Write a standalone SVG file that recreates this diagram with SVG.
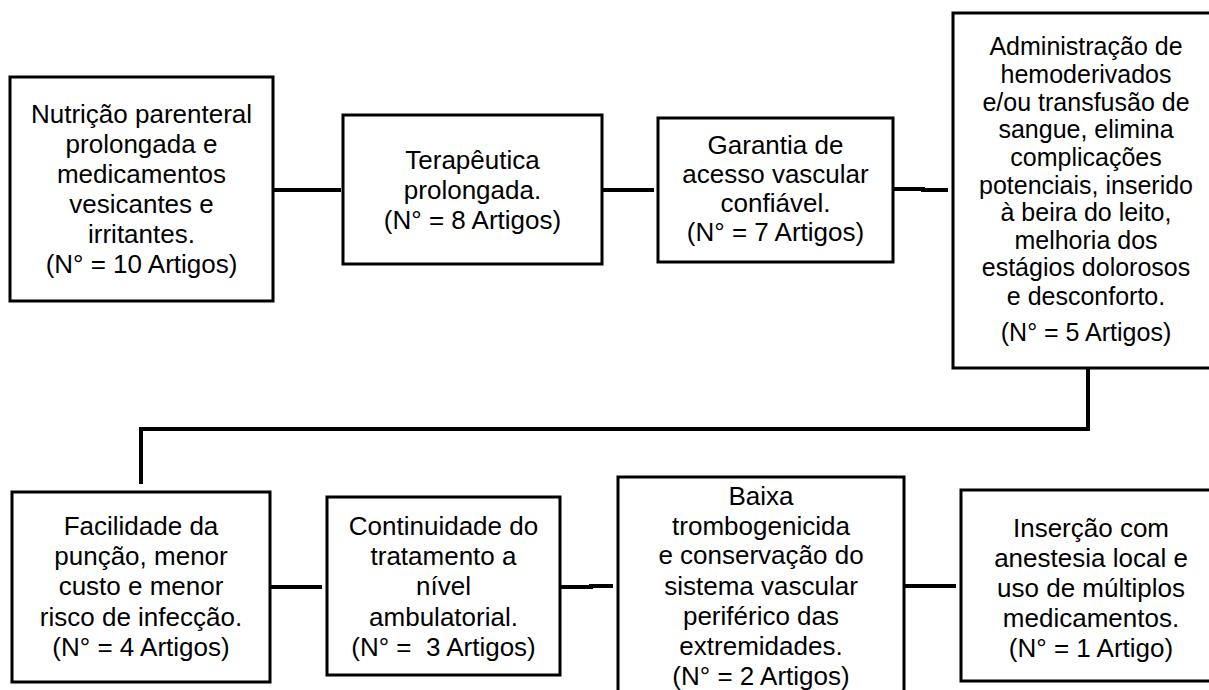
<svg xmlns="http://www.w3.org/2000/svg" width="1209" height="690" viewBox="0 0 1209 690">
<style>
.box{fill:#fff;stroke:#000;stroke-width:3}
.t{font-family:"Liberation Sans",Arial,sans-serif;font-size:26px;fill:#000;text-anchor:middle;white-space:pre}
.s{font-size:25px}
.c{fill:none;stroke:#000;stroke-width:4}
</style>
<rect width="1209" height="690" fill="#fff"/>
<g id="connectors">
<line class="c" x1="273" y1="190" x2="341" y2="190"/>
<line class="c" x1="602" y1="190" x2="654" y2="190"/>
<polyline class="c" points="893,189 923,189 923,190 948,190"/>
<polyline class="c" points="1088,368 1088,429 141,429 141,484"/>
<line class="c" x1="270" y1="587" x2="322" y2="587"/>
<polyline class="c" points="560,587 591,587 591,586 613,586"/>
<line class="c" x1="904" y1="586" x2="956" y2="586"/>
</g>
<g id="n1">
<rect class="box" x="10" y="77" width="263" height="224"/>
<text class="t" x="141.5" y="123">Nutrição parenteral</text>
<text class="t" x="141.5" y="153">prolongada e</text>
<text class="t" x="141.5" y="183">medicamentos</text>
<text class="t" x="141.5" y="213">vesicantes e</text>
<text class="t" x="141.5" y="243">irritantes.</text>
<text class="t" x="141.5" y="273">(N° = 10 Artigos)</text>
</g>
<g id="n2">
<rect class="box" x="343" y="115" width="259" height="149"/>
<text class="t" x="472.5" y="169">Terapêutica</text>
<text class="t" x="472.5" y="199">prolongada.</text>
<text class="t" x="472.5" y="229">(N° = 8 Artigos)</text>
</g>
<g id="n3">
<rect class="box" x="658" y="118" width="235" height="144"/>
<text class="t" x="775.5" y="154">Garantia de</text>
<text class="t" x="775.5" y="183">acesso vascular</text>
<text class="t" x="775.5" y="212">confiável.</text>
<text class="t" x="775.5" y="241">(N° = 7 Artigos)</text>
</g>
<g id="n4">
<rect class="box" x="953" y="13" width="270" height="355"/>
<text class="t s" x="1086" y="55">Administração de</text>
<text class="t s" x="1086" y="83">hemoderivados</text>
<text class="t s" x="1086" y="111">e/ou transfusão de</text>
<text class="t s" x="1086" y="138">sangue, elimina</text>
<text class="t s" x="1086" y="166">complicações</text>
<text class="t s" x="1086" y="194">potenciais, inserido</text>
<text class="t s" x="1086" y="221">à beira do leito,</text>
<text class="t s" x="1086" y="249">melhoria dos</text>
<text class="t s" x="1086" y="276">estágios dolorosos</text>
<text class="t s" x="1086" y="305">e desconforto.</text>
<text class="t s" x="1086" y="341">(N° = 5 Artigos)</text>
</g>
<g id="n5">
<rect class="box" x="12" y="492" width="258" height="190"/>
<text class="t" x="141" y="535">Facilidade da</text>
<text class="t" x="141" y="565">punção, menor</text>
<text class="t" x="141" y="595">custo e menor</text>
<text class="t" x="141" y="626">risco de infecção.</text>
<text class="t" x="141" y="656">(N° = 4 Artigos)</text>
</g>
<g id="n6">
<rect class="box" x="327" y="497" width="233" height="178"/>
<text class="t" x="443.5" y="535">Continuidade do</text>
<text class="t" x="443.5" y="565">tratamento a</text>
<text class="t" x="443.5" y="595">nível</text>
<text class="t" x="443.5" y="626">ambulatorial.</text>
<text class="t" x="443.5" y="656">(N° =  3 Artigos)</text>
</g>
<g id="n7">
<rect class="box" x="618" y="477" width="286" height="230"/>
<text class="t" x="761" y="505">Baixa</text>
<text class="t" x="761" y="535">trombogenicida</text>
<text class="t" x="761" y="564">e conservação do</text>
<text class="t" x="761" y="595">sistema vascular</text>
<text class="t" x="761" y="625">periférico das</text>
<text class="t" x="761" y="655">extremidades.</text>
<text class="t" x="761" y="685">(N° = 2 Artigos)</text>
</g>
<g id="n8">
<rect class="box" x="961" y="490" width="262" height="191"/>
<text class="t" x="1091" y="537">Inserção com</text>
<text class="t" x="1091" y="567">anestesia local e</text>
<text class="t" x="1091" y="597">uso de múltiplos</text>
<text class="t" x="1091" y="627">medicamentos.</text>
<text class="t" x="1091" y="657">(N° = 1 Artigo)</text>
</g>
</svg>
